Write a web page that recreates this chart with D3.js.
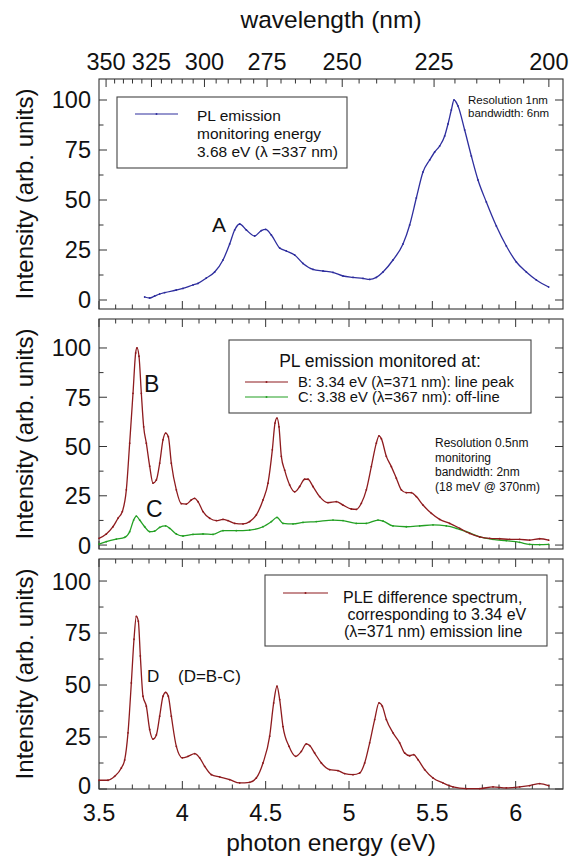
<!DOCTYPE html>
<html><head><meta charset="utf-8">
<script src="https://cdn.jsdelivr.net/npm/d3@7"></script>
<style>
html,body{margin:0;padding:0;background:#fff;}
svg{display:block;font-family:"Liberation Sans",Arial,sans-serif;}
</style></head>
<body>
<svg id="chart" width="569" height="857"></svg>
<script>
// ---------- data ----------
const energyTicks = [3.5, 4, 4.5, 5, 5.5, 6];
const energyTickLabels = ["3.5", "4", "4.5", "5", "5.5", "6"];
const wavelengthTicks = [350, 325, 300, 275, 250, 225, 200];
const intensityTicks = [0, 25, 50, 75, 100];

// Panel 1: PL emission monitoring 3.68 eV
const plE = [3.774,3.804,3.834,3.864,3.894,3.964,4.004,4.064,4.094,4.144,4.194,4.244,4.284,4.314,4.344,4.384,4.434,4.474,4.50,4.534,4.584,4.624,4.674,4.724,4.784,4.844,4.904,4.964,5.024,5.084,5.124,5.164,5.204,5.264,5.324,5.364,5.404,5.444,5.484,5.514,5.544,5.574,5.594,5.614,5.63,5.654,5.694,5.734,5.774,5.824,5.884,5.944,6.004,6.064,6.124,6.198];
const plI = [1.5,1.0,2.0,3.0,3.7,5.0,5.8,7.5,8.3,11,14,20,28,35,38,35,32,34.7,35.3,32.5,26,24.5,22.5,18.3,15.3,14.5,13.8,12,11.3,10.8,10.3,11.3,14,20,28,37.5,51,64,70,74,77,82,88,95,100,97,85,72,60,49,37,27,19,14,10,6.5];

// Panel 2: B (line peak) and C (off-line)
const bE = [3.5,3.544,3.584,3.614,3.64,3.664,3.684,3.704,3.72,3.728,3.74,3.754,3.768,3.784,3.804,3.824,3.844,3.864,3.884,3.90,3.916,3.934,3.964,3.994,4.024,4.054,4.074,4.094,4.124,4.164,4.204,4.244,4.274,4.314,4.364,4.404,4.444,4.484,4.514,4.54,4.556,4.568,4.58,4.594,4.614,4.644,4.674,4.704,4.734,4.754,4.784,4.824,4.874,4.924,4.964,5.014,5.044,5.074,5.104,5.134,5.164,5.18,5.194,5.224,5.254,5.284,5.314,5.344,5.374,5.404,5.444,5.494,5.544,5.604,5.664,5.724,5.784,5.844,5.904,5.964,6.024,6.084,6.144,6.198];
const bI = [3.4,5.6,9.3,13.6,17,28,51.7,77,97.5,100,95.8,77,60,51.7,40,31.4,33,41.5,53.4,56.8,55,41.5,28,21,20.8,22.9,23.7,22,17,13.6,12.4,13,12.4,11,10.7,11.9,15.3,22.9,31.4,48.3,61.9,64.4,60,45,38,30.5,27,29.7,33.4,33.4,29.7,24.6,21.5,22,20.3,18.3,18.1,21.2,28,39.8,51.7,55.4,54,45,39.8,33.9,28,26.6,26.6,24.6,20.3,16.1,13,11,8.5,5.9,4.2,3.4,3.2,2.9,2.9,2.5,3.2,2.5];
const cE = [3.5,3.544,3.604,3.654,3.684,3.708,3.724,3.744,3.774,3.804,3.834,3.864,3.90,3.924,3.964,4.004,4.064,4.124,4.184,4.244,4.324,4.404,4.484,4.534,4.568,4.604,4.664,4.724,4.804,4.904,4.964,5.044,5.104,5.174,5.204,5.264,5.344,5.424,5.504,5.584,5.644,5.704,5.784,5.864,5.944,6.024,6.084,6.144,6.198];
const cI = [0.5,1.7,3,3.9,6.8,12.7,14.7,12.7,9.3,6.8,7.1,9,9.7,8.5,5.6,4.6,5.4,5.6,5.4,7.3,7.3,7.6,9.3,11.9,14,11,10.7,11.5,11.9,12.7,12.4,11,11,12.7,12.2,9.7,9.3,9.7,10.2,9.7,8.5,6.8,4.2,2.9,2.2,1.4,0.3,0.2,0.3];

// Panel 3: D = B - C
const dE = [3.5,3.554,3.594,3.634,3.654,3.674,3.694,3.71,3.724,3.736,3.748,3.764,3.784,3.804,3.824,3.844,3.864,3.884,3.90,3.916,3.934,3.964,4.0,4.034,4.074,4.104,4.134,4.174,4.224,4.284,4.344,4.404,4.444,4.484,4.524,4.548,4.568,4.584,4.604,4.64,4.68,4.714,4.744,4.764,4.794,4.834,4.884,4.934,4.974,5.024,5.064,5.094,5.124,5.154,5.18,5.2,5.224,5.264,5.304,5.334,5.364,5.388,5.414,5.454,5.504,5.564,5.624,5.704,5.784,5.864,5.944,6.024,6.084,6.144,6.198];
const dI = [4.2,4.2,6.1,10.1,14,27,51,72,83,80.7,64,44.6,39.8,28.6,24,26,35,44.6,46.5,44.6,35,20.5,15,15.7,17,15,10.9,6.9,5.8,4.5,2.9,3.2,5.3,12.5,25.4,41.4,49.4,43,30,20.5,15.7,18.1,21.7,20.9,17.3,12.5,9.3,8.8,7.4,6.9,7.7,12.5,22.2,33.4,41.4,39.8,33.4,27,22.2,17.3,16,16.5,14.1,9.3,5.3,2.9,1,0.2,0.2,1,0.5,1,1.6,2.6,1.6];

const blue = "#2e2e9e", maroon = "#8e1b1e", green = "#23a023";

// ---------- layout ----------
const svg = d3.select("#chart");
const L = 99, R = 563;
const x = d3.scaleLinear().domain([3.5, 6.284]).range([L, R]);
const panels = [
  {top: 79, bottom: 309, dom: [-4.5, 110.5]},
  {top: 319, bottom: 549, dom: [-2, 114.7]},
  {top: 559, bottom: 789, dom: [0, 110.6]}
];
panels.forEach(p => p.y = d3.scaleLinear().domain(p.dom).range([p.bottom, p.top]));

const frameCol = "#333";
const minorE = d3.range(35, 63).map(v => v / 10);
const minorI = d3.range(0, 9).map(v => v * 12.5);

function drawFrame(p, topWavelength, lastPanel) {
  const g = svg.append("g");
  g.append("rect").attr("x", L).attr("y", p.top).attr("width", R - L).attr("height", p.bottom - p.top)
    .attr("fill", "none").attr("stroke", frameCol).attr("stroke-width", 1.1);
  minorI.forEach(v => {
    const yy = p.y(v); if (yy < p.top || yy > p.bottom) return;
    const len = (v % 25 === 0) ? 8 : 4.5;
    g.append("line").attr("x1", L).attr("x2", L + len).attr("y1", yy).attr("y2", yy).attr("stroke", frameCol);
    g.append("line").attr("x1", R).attr("x2", R - len).attr("y1", yy).attr("y2", yy).attr("stroke", frameCol);
  });
  minorE.forEach(e => {
    const xx = x(e); if (xx < L || xx > R) return;
    const major = Math.abs(e * 2 - Math.round(e * 2)) < 1e-6;
    const len = major ? 8 : 4.5;
    g.append("line").attr("x1", xx).attr("x2", xx).attr("y1", p.bottom).attr("y2", p.bottom - len).attr("stroke", frameCol);
    if (!topWavelength)
      g.append("line").attr("x1", xx).attr("x2", xx).attr("y1", p.top).attr("y2", p.top + len).attr("stroke", frameCol);
  });
  if (topWavelength) {
    d3.range(200, 351, 5).forEach(w => {
      const xx = x(1239.84 / w); if (xx < L || xx > R) return;
      const len = (w % 25 === 0) ? 8 : 4.5;
      g.append("line").attr("x1", xx).attr("x2", xx).attr("y1", p.top).attr("y2", p.top + len).attr("stroke", frameCol);
    });
  }
  intensityTicks.forEach(v => {
    const yy = p.y(v) - ((lastPanel && v === 0) ? 3.5 : 0);
    g.append("text").attr("x", 91).attr("y", yy).attr("dy", "0.36em")
      .attr("text-anchor", "end").attr("font-size", 23.5).attr("fill", "#111").text(v);
  });
  g.append("text").attr("transform", `translate(33,${(p.top + p.bottom) / 2}) rotate(-90)`)
    .attr("text-anchor", "middle").attr("font-size", 24).attr("fill", "#111").text("Intensity (arb. units)");
}

function drawSeries(p, E, I, col) {
  const pts = E.map((e, i) => [e, I[i]]);
  const line = d3.line().x(d => x(d[0])).y(d => p.y(d[1])).curve(d3.curveMonotoneX);
  svg.append("path").datum(pts).attr("d", line).attr("fill", "none").attr("stroke", col).attr("stroke-width", 1.3);
  svg.append("g").selectAll("circle").data(pts).join("circle")
    .attr("cx", d => x(d[0])).attr("cy", d => p.y(d[1])).attr("r", 0.9).attr("fill", col);
}

panels.forEach((p, i) => drawFrame(p, i === 0, i === 2));

wavelengthTicks.forEach(w => {
  svg.append("text").attr("x", x(1239.84 / w)).attr("y", 70).attr("text-anchor", "middle")
    .attr("font-size", 23.5).attr("fill", "#111").text(w);
});
svg.append("text").attr("x", (L + R) / 2).attr("y", 28).attr("text-anchor", "middle")
  .attr("font-size", 24.5).attr("fill", "#111").text("wavelength (nm)");

energyTicks.forEach((e, i) => {
  svg.append("text").attr("x", x(e)).attr("y", 821).attr("text-anchor", "middle")
    .attr("font-size", 23.5).attr("fill", "#111").text(energyTickLabels[i]);
});
svg.append("text").attr("x", (L + R) / 2).attr("y", 851).attr("text-anchor", "middle")
  .attr("font-size", 24.5).attr("fill", "#111").text("photon energy (eV)");

drawSeries(panels[0], plE, plI, blue);
drawSeries(panels[1], cE, cI, green);
drawSeries(panels[1], bE, bI, maroon);
drawSeries(panels[2], dE, dI, maroon);

// ---------- annotations ----------
function txt(xx, yy, s, size, anchor) {
  return svg.append("text").attr("x", xx).attr("y", yy).attr("font-size", size)
    .attr("text-anchor", anchor || "start").attr("fill", "#111").text(s);
}
function legendLine(x1, x2, yy, col) {
  svg.append("line").attr("x1", x1).attr("x2", x2).attr("y1", yy).attr("y2", yy).attr("stroke", col).attr("stroke-width", 1.2);
  svg.append("circle").attr("cx", (x1 + x2) / 2).attr("cy", yy).attr("r", 1).attr("fill", col);
}
function box(x1, y1, x2, y2) {
  svg.append("rect").attr("x", x1).attr("y", y1).attr("width", x2 - x1).attr("height", y2 - y1)
    .attr("fill", "#fff").attr("stroke", "#444").attr("stroke-width", 1.1);
}

box(117, 97, 347, 168);
legendLine(135, 178, 114, blue);
txt(197, 121, "PL emission", 15.5);
txt(197, 139, "monitoring energy", 15.5);
txt(197, 157, "3.68 eV (\u03bb =337 nm)", 15.5);
txt(468, 104, "Resolution 1nm", 11.5);
txt(468, 117, "bandwidth: 6nm", 11.5);
txt(212, 232, "A", 21);

box(229, 340, 531, 413);
txt(380, 367, "PL emission monitored at:", 17.5, "middle");
legendLine(245, 288, 382, maroon);
legendLine(245, 288, 397, green);
txt(298, 387, "B: 3.34 eV (\u03bb=371 nm): line peak", 14.8);
txt(298, 402, "C: 3.38 eV (\u03bb=367 nm): off-line", 14.8);
txt(435, 447, "Resolution 0.5nm", 12);
txt(435, 462, "monitoring", 12);
txt(435, 476, "bandwidth: 2nm", 12);
txt(435, 491, "(18 meV @ 370nm)", 12);
txt(144, 392, "B", 23);
txt(146, 517, "C", 23);

box(265, 575, 547, 646);
legendLine(283, 328, 593, maroon);
txt(343, 603, "PLE difference spectrum,", 16);
txt(343, 620, "\u00a0corresponding to 3.34 eV", 16);
txt(344, 637, "(\u03bb=371 nm) emission line", 16);
txt(147, 682, "D", 17);
txt(178, 682, "(D=B-C)", 17);
</script>
</body></html>
